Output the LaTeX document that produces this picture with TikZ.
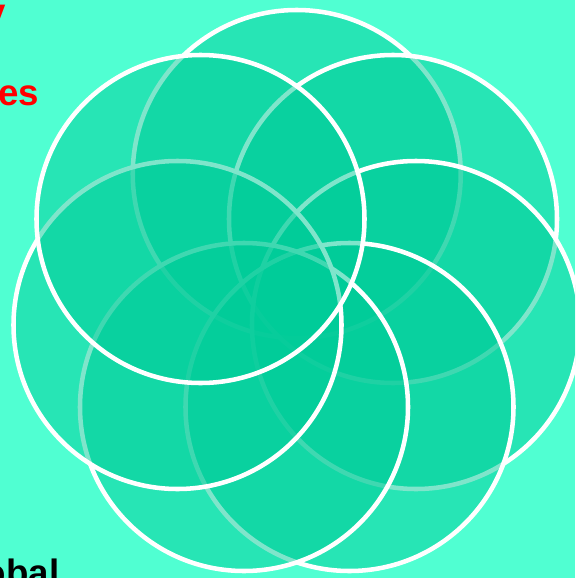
\documentclass[tikz,border=0pt]{standalone}
\usepackage{fontspec}
\setmainfont{Liberation Sans}
\definecolor{bgmint}{RGB}{80,255,210}
\definecolor{petal}{RGB}{0,204,153}
\definecolor{txtred}{RGB}{255,0,0}
\begin{document}
\begin{tikzpicture}[x=0.75pt,y=-0.75pt,
  petalc/.style={fill=petal,fill opacity=0.5,draw=white,draw opacity=1,line width=3.4pt},
  frag/.style={font=\bfseries\fontsize{27.5pt}{33pt}\selectfont,inner sep=0pt,anchor=base east}]
\useasboundingbox (0,0) rectangle (575,578);
\clip (0,0) rectangle (575,578);
\fill[bgmint] (0,0) rectangle (575,578);
% petals, in drawing order
\draw[petalc] (296.75,174) circle[radius=164];
\draw[petalc] (393,219) circle[radius=164];
\draw[petalc] (416,325) circle[radius=164];
\draw[petalc] (349.5,407) circle[radius=164];
\draw[petalc] (244,407) circle[radius=164];
\draw[petalc] (177.5,325) circle[radius=164];
\draw[petalc] (200.5,219) circle[radius=164];
% text fragments
\node[frag,text=txtred] (ty) at (6,24) {y};
\node[frag,text=txtred] (tes) at (39.5,105.5) {es};
\node[frag,text=black] (tobal) at (59.5,585) {obal};
\end{tikzpicture}
\end{document}
